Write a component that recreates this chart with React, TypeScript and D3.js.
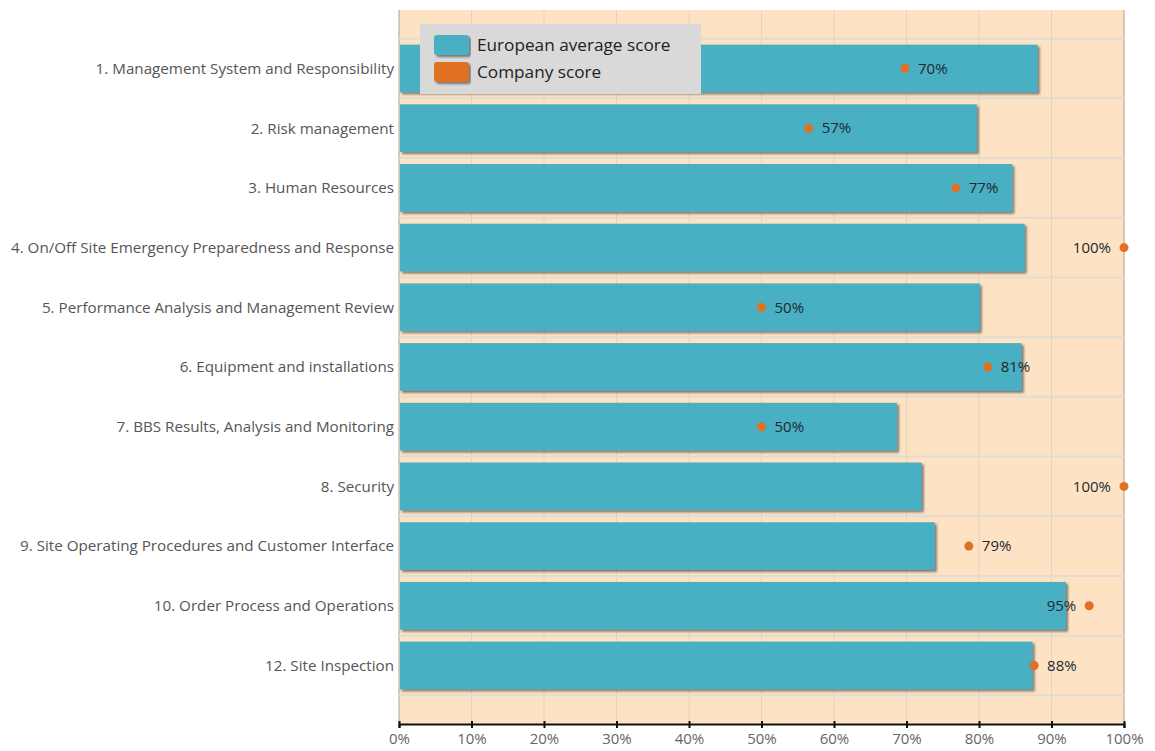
import React, { useEffect, useRef } from 'react'
import * as d3 from 'd3'

const categories = [
  '1. Management System and Responsibility',
  '2. Risk management',
  '3. Human Resources',
  '4. On/Off Site Emergency Preparedness and Response',
  '5. Performance Analysis and Management Review',
  '6. Equipment and installations',
  '7. BBS Results, Analysis and Monitoring',
  '8. Security',
  '9. Site Operating Procedures and Customer Interface',
  '10. Order Process and Operations',
  '12. Site Inspection',
]
const europeanAverage = [88.1, 79.7, 84.6, 86.3, 80.1, 85.9, 68.7, 72.1, 73.9, 92.0, 87.4]
const companyScore = [69.8, 56.5, 76.8, 100, 50, 81.2, 50, 100, 78.6, 95.2, 87.6]
const xTicks = [0, 10, 20, 30, 40, 50, 60, 70, 80, 90, 100]
const seriesNames = ['European average score', 'Company score']

const W = 1155
const H = 751
const FONT = '"Open Sans", "Noto Sans", sans-serif'
const BAR = '#4aafc3'
const DOT = '#e07022'

export default function App() {
  const svgRef = useRef<SVGSVGElement>(null)

  useEffect(() => {
    if (!svgRef.current) return
    const svg = d3.select(svgRef.current)
    svg.selectAll('*').remove()

    const margin = { top: 10, right: 31, bottom: 27, left: 399 }
    const innerW = W - margin.left - margin.right
    const innerH = H - margin.top - margin.bottom

    const defs = svg.append('defs')
    const f = defs.append('filter').attr('id', 'shadow')
      .attr('x', '-5%').attr('y', '-20%').attr('width', '110%').attr('height', '150%')
    f.append('feDropShadow')
      .attr('dx', 2).attr('dy', 2).attr('stdDeviation', 1)
      .attr('flood-color', '#333').attr('flood-opacity', 0.6)

    const g = svg.append('g').attr('transform', `translate(${margin.left},${margin.top})`)

    const x = d3.scaleLinear().domain([0, 100]).range([0, innerW])
    const y = d3.scaleBand<string>()
      .domain(categories)
      .range([0, innerH])
      .paddingInner(0.2)
      .paddingOuter(0.58)

    // plot background
    g.append('rect')
      .attr('width', innerW).attr('height', innerH)
      .attr('fill', '#fde3c4')

    // vertical grid
    g.selectAll('.vgrid')
      .data(xTicks)
      .enter()
      .append('line')
      .attr('x1', d => x(d)).attr('x2', d => x(d))
      .attr('y1', 0).attr('y2', innerH)
      .attr('stroke', d => (d === 0 || d === 100 ? '#a8a096' : '#e6d2bb'))
      .attr('stroke-width', 1)

    // horizontal band separators
    const step = y.step()
    const bounds = categories.map(c => (y(c) as number) - (step - y.bandwidth()) / 2)
    bounds.push((y(categories[categories.length - 1]) as number) + y.bandwidth() + (step - y.bandwidth()) / 2)
    g.selectAll('.hgrid')
      .data(bounds)
      .enter()
      .append('line')
      .attr('x1', 0).attr('x2', innerW)
      .attr('y1', d => d).attr('y2', d => d)
      .attr('stroke', '#e3dbd2')
      .attr('stroke-width', 2)

    // bars
    g.selectAll('.bar')
      .data(europeanAverage)
      .enter()
      .append('rect')
      .attr('x', 1)
      .attr('y', (_, i) => y(categories[i]) as number)
      .attr('width', d => x(d) - 1)
      .attr('height', y.bandwidth())
      .attr('fill', BAR)
      .attr('filter', 'url(#shadow)')

    // company dots
    const cy = (i: number) => (y(categories[i]) as number) + y.bandwidth() / 2
    g.selectAll('.dot')
      .data(companyScore)
      .enter()
      .append('circle')
      .attr('cx', d => x(d))
      .attr('cy', (_, i) => cy(i))
      .attr('r', 4.5)
      .attr('fill', DOT)

    g.selectAll('.dot-label')
      .data(companyScore)
      .enter()
      .append('text')
      .attr('x', d => (d >= 90 ? x(d) - 13 : x(d) + 13))
      .attr('y', (_, i) => cy(i))
      .attr('dy', '0.35em')
      .attr('text-anchor', d => (d >= 90 ? 'end' : 'start'))
      .attr('font-family', FONT)
      .attr('font-size', 15)
      .attr('fill', '#1e2a30')
      .text(d => `${Math.round(d)}%`)

    // category labels
    g.selectAll('.cat')
      .data(categories)
      .enter()
      .append('text')
      .attr('x', -5)
      .attr('y', (_, i) => cy(i))
      .attr('dy', '0.35em')
      .attr('text-anchor', 'end')
      .attr('font-family', FONT)
      .attr('font-size', 15.2)
      .attr('fill', '#555')
      .text(d => d)

    // x axis
    const axis = g.append('g')
      .attr('transform', `translate(0,${innerH})`)
      .call(d3.axisBottom(x).tickValues(xTicks).tickSize(4).tickFormat(d => `${d}%`))
    axis.select('.domain').attr('stroke', '#111').attr('stroke-width', 2)
    axis.selectAll('.tick line').attr('stroke', '#111').attr('stroke-width', 2).attr('y1', -3)
    axis.selectAll('.tick text')
      .attr('font-family', FONT)
      .attr('font-size', 15)
      .attr('fill', '#666')
      .attr('dy', '0.85em')

    // legend
    const lg = svg.append('g').attr('transform', 'translate(420,24)')
    lg.append('rect').attr('width', 281).attr('height', 70).attr('fill', '#d9d9d9')
    const items = lg.selectAll('.item')
      .data(seriesNames)
      .enter()
      .append('g')
      .attr('transform', (_, i) => `translate(14,${11 + i * 27})`)
    items.append('rect')
      .attr('width', 35).attr('height', 20).attr('rx', 3)
      .attr('fill', (_, i) => (i === 0 ? BAR : DOT))
      .attr('filter', 'url(#shadow)')
    items.append('text')
      .attr('x', 43).attr('y', 10).attr('dy', '0.35em')
      .attr('font-family', FONT)
      .attr('font-size', 17.2)
      .attr('fill', '#222')
      .text(d => d)
  }, [])

  return (
    <div style={{ position: 'absolute', left: 0, top: 0, width: W, height: H, background: '#fff' }}>
      <svg ref={svgRef} width={W} height={H} />
    </div>
  )
}
